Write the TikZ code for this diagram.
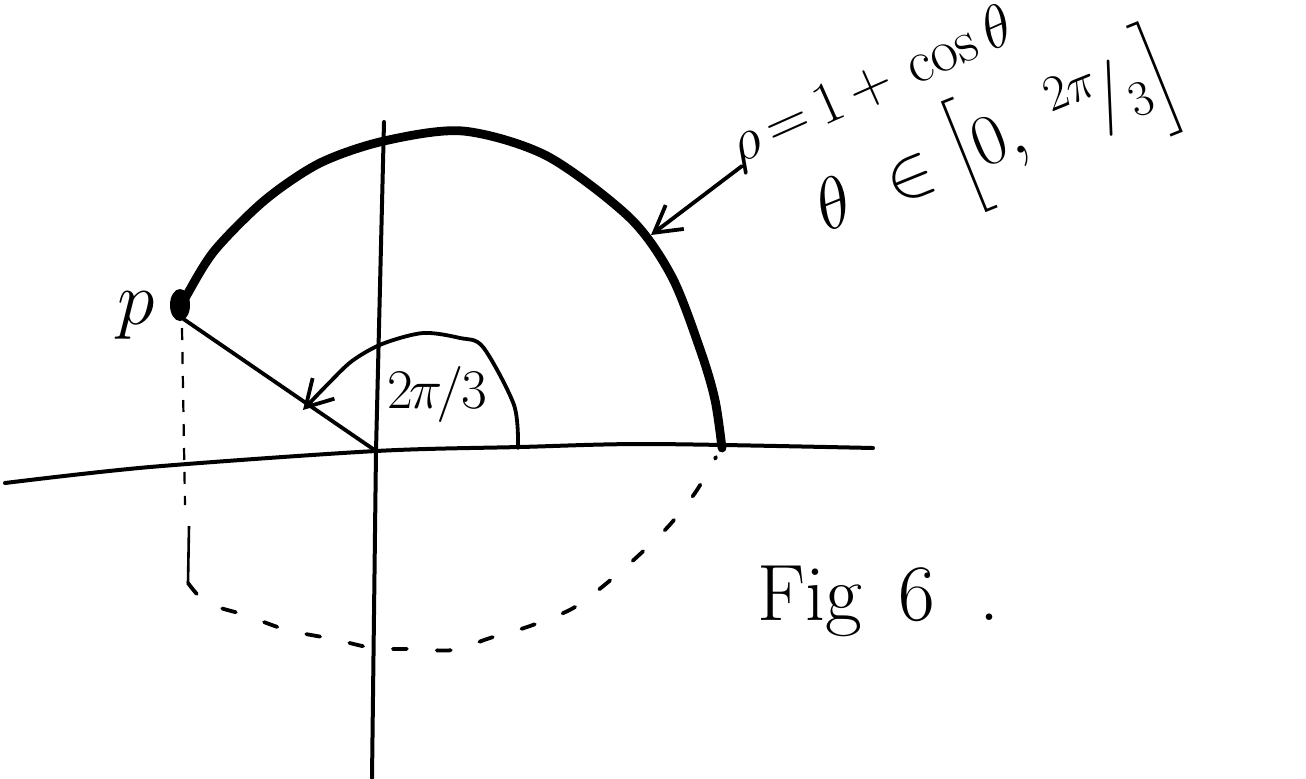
\RequirePackage{fix-cm}
\documentclass[tikz,border=0pt]{standalone}
\usepackage{amsmath}
\usetikzlibrary{arrows.meta}
\begin{document}
\begin{tikzpicture}[
 x=.5pt,y=-.5pt,
 axis/.style={line width=2pt,line cap=round},
 curve/.style={line width=4.4pt,line cap=round,line join=round},
 stroke/.style={line width=1.9pt,line cap=round},
 guide/.style={line width=1.1pt,dash pattern=on 6pt off 6pt},
 shadow/.style={line width=1.9pt,line cap=round,dash pattern=on 7pt off 15pt},
 barb/.style={-{Straight Barb[length=13pt,width=15pt,line width=1.9pt]}},
 hand/.style={inner sep=0pt,font=\fontsize{#1}{#1}\selectfont},
 hand/.default=28]
 \useasboundingbox (0,0) rectangle (1306,778);
 % Axes.
 \coordinate (O) at (376,451);
 \coordinate (xl) at (5,483); \coordinate (xr) at (873,448);
 \coordinate (yt) at (384,122); \coordinate (yb) at (372,778);
 \draw[axis] plot[smooth] coordinates {(xl) (150,467) (O) (520,447) (650,444) (xr)};
 \draw[axis] (yt)--(O)--(yb);
 % Arc of the cardioid, from P down to the axis.
 \coordinate (P) at (182,318); \coordinate (A) at (722,448);
 \fill (180,305) ellipse [x radius=10,y radius=16];
 \draw[curve] plot[smooth] coordinates {(180,310) (188,293) (215,250) (265,200)
  (320,163) (384,141) (463,131) (547,156) (630,218) (672,277) (701,352) (715,400) (A)};
 % Radius and angle.
 \draw[stroke] (P)--(O);
 \draw[stroke,barb] plot[smooth] coordinates {(518,448) (514,405) (483,347) (460,338)
  (423,333) (382,344) (352,361) (328,384) (303,410)};
 \node[hand=28] (ang) at (437,394) {$2\mkern-1mu\pi\mkern-2mu/\mkern-1mu3$};
 % Projection of P and mirrored arc.
 \coordinate (Pa) at (185,505); \coordinate (Pc) at (189,526); \coordinate (Pd) at (188,583);
 \draw[guide] (182,328)--(Pa);
 \draw[line width=1.3pt] (Pc)--(Pd);
 \draw[shadow] plot[smooth] coordinates {(Pd) (207,603) (245,615) (287,630) (333,639)
  (373,648) (413,649) (453,650) (490,638) (530,626) (575,607) (620,572) (665,530)
  (695,493) (716,457)};
 % Labels.
 \node[hand=38] (p) at (136,316) {$p$};
 \coordinate (ta) at (742,166); \coordinate (tb) at (651,235);
 \draw[stroke,barb] (ta)--(tb);
 \node[hand=30,rotate=24] (eq) at (872,88)
  {$\rho\mkern3mu{=}\mkern3mu1\mkern3mu{+}\mkern3mu\cos\theta$};
 \node[hand=36,rotate=22] (rng) at (996,144)
  {$\theta\;\in\Bigl[0,\;{}^{2\pi}\!/{}_{3}\Bigr]$};
 \node[hand=40,anchor=base west] (fig) at (757,620) {Fig\hspace{.45em}6\hspace{.55em}.};
\end{tikzpicture}
\end{document}
